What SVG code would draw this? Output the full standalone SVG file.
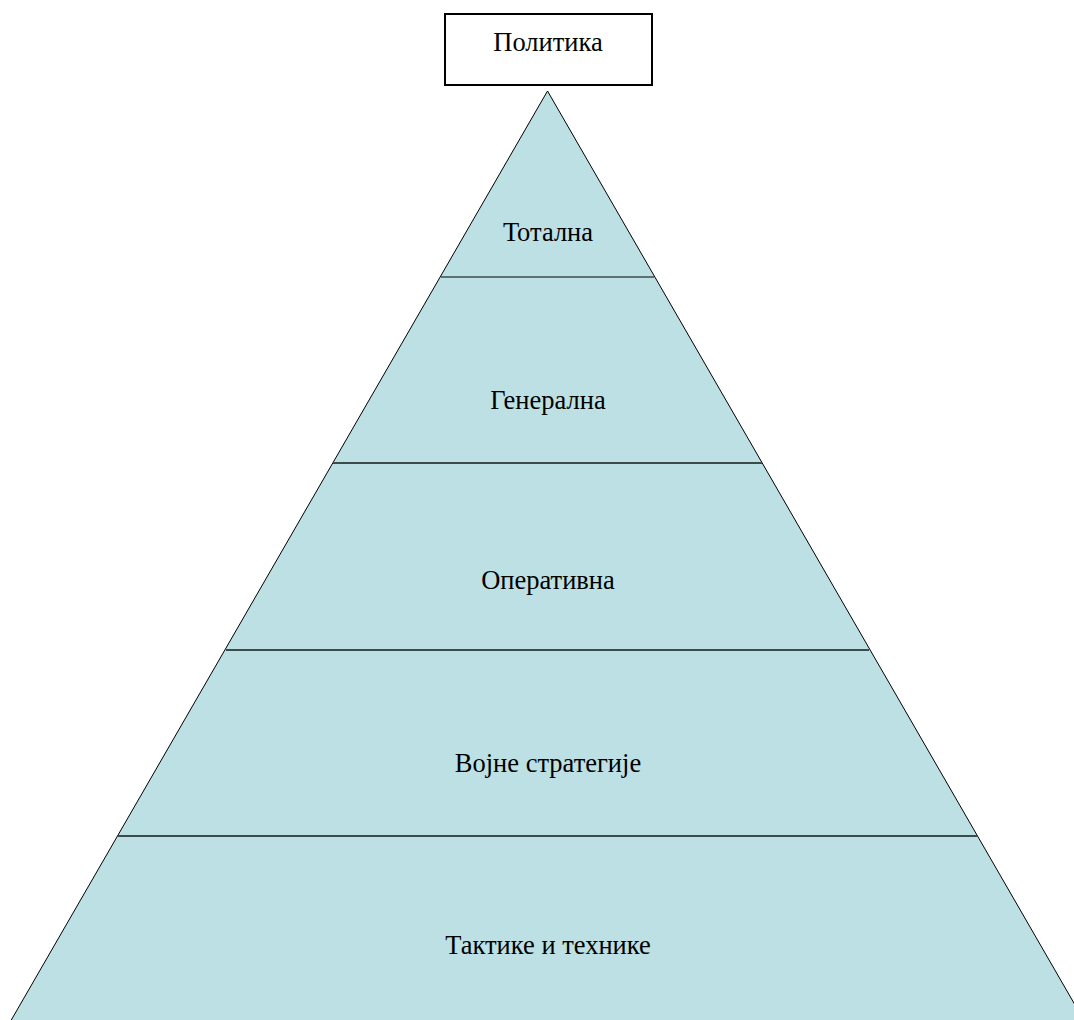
<svg xmlns="http://www.w3.org/2000/svg" width="1074" height="1020" viewBox="0 0 1074 1020">
<style>
.lbl{font-family:"Liberation Serif","Times New Roman",serif;font-size:26.5px;fill:#000;text-anchor:middle}
.div{stroke:#3c4c4c;stroke-width:2}
</style>
<rect width="1074" height="1020" fill="#fff"/>
<g id="pyramid">
<polygon points="547.5,91 5.5,1030 1089.5,1030" fill="#bce0e3" stroke="#000" stroke-width="1"/>
</g>
<g id="connectors">
<line x1="441" y1="277" x2="654" y2="277" stroke="#000" stroke-width="1"/>
<line class="div" x1="333" y1="463" x2="762" y2="463"/>
<line class="div" x1="226" y1="650" x2="869" y2="650"/>
<line class="div" x1="118" y1="836" x2="977" y2="836"/>
</g>
<g id="node-politika">
<rect x="445" y="14" width="207" height="71" fill="#fff" stroke="#000" stroke-width="2"/>
<text class="lbl" x="548" y="51">Политика</text>
</g>
<g id="node-totalna"><text class="lbl" x="548" y="241">Тотална</text></g>
<g id="node-generalna"><text class="lbl" x="548" y="409">Генерална</text></g>
<g id="node-operativna"><text class="lbl" x="548" y="589">Оперативна</text></g>
<g id="node-vojne"><text class="lbl" x="548" y="772">Војне стратегије</text></g>
<g id="node-taktike"><text class="lbl" x="548" y="954">Тактике и технике</text></g>
</svg>
